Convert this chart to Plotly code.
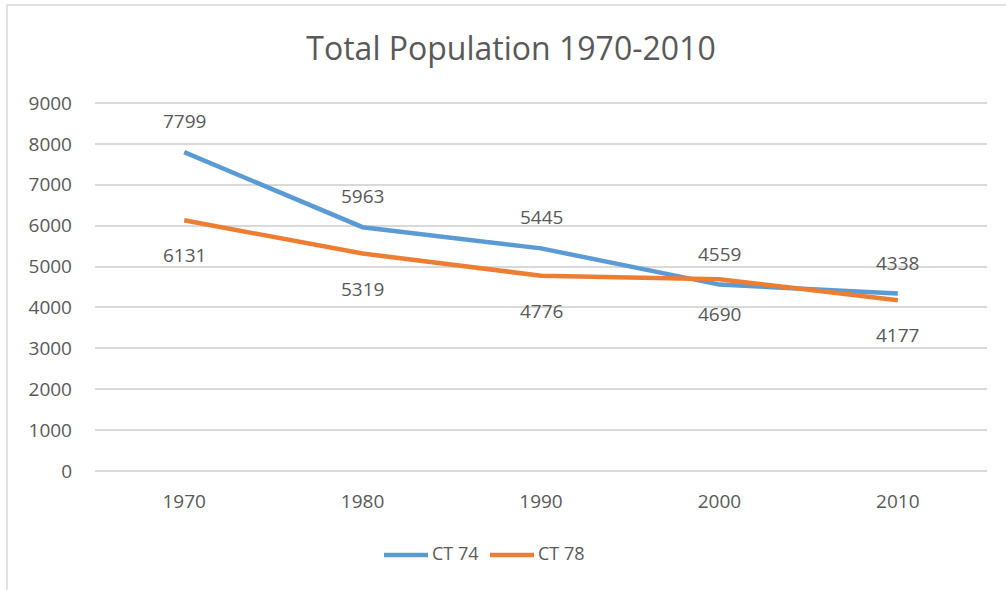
import plotly.graph_objects as go

years = ["1970", "1980", "1990", "2000", "2010"]
ct74 = [7799, 5963, 5445, 4559, 4338]
ct78 = [6131, 5319, 4776, 4690, 4177]
y_ticks = [0, 1000, 2000, 3000, 4000, 5000, 6000, 7000, 8000, 9000]
series_names = ["CT 74", "CT 78"]

FONT = "Open Sans"
TXT = "#595959"
BLUE = "#5B9BD5"
ORANGE = "#ED7D31"
GRID = "#D9D9D9"

W, H = 1006, 590
K = 368 / 9000          # px per unit
PAD = 50                # small range padding so edge gridlines are drawn
ML, MR = 95, 19
MT = round(103 - PAD * K)
MB = round(H - (471 + PAD * K))
PW = W - ML - MR
PH = H - MT - MB


def px_x(p):
    return (p - ML) / PW


def px_y(p):
    return (H - MB - p) / PH


xs = list(range(len(years)))
fig = go.Figure()
fig.add_trace(go.Scatter(x=xs, y=ct74, mode="lines", name=series_names[0],
                         line=dict(color=BLUE, width=4.5), showlegend=False))
fig.add_trace(go.Scatter(x=xs, y=ct78, mode="lines", name=series_names[1],
                         line=dict(color=ORANGE, width=4.5), showlegend=False))

for x, v in zip(xs, ct74):
    fig.add_annotation(x=x, y=v, text=str(v), showarrow=False, yshift=31,
                       font=dict(family=FONT, size=19, color=TXT))
for x, v in zip(xs, ct78):
    fig.add_annotation(x=x, y=v, text=str(v), showarrow=False, yshift=-35,
                       font=dict(family=FONT, size=19, color=TXT))

# custom legend
for (x0, x1, tx), name, col in zip([(384, 428, 430), (490, 534, 536)],
                                   series_names, [BLUE, ORANGE]):
    fig.add_shape(type="line", xref="paper", yref="paper",
                  x0=px_x(x0), x1=px_x(x1), y0=px_y(555), y1=px_y(555),
                  line=dict(color=col, width=4.5))
    fig.add_annotation(xref="paper", yref="paper", x=px_x(tx), y=px_y(553),
                       xanchor="left", yanchor="middle", showarrow=False,
                       text=name, font=dict(family=FONT, size=18, color=TXT))

# outer chart border (left/top visible)
fig.add_shape(type="rect", xref="paper", yref="paper",
              x0=px_x(7), x1=px_x(1040), y0=px_y(640), y1=px_y(5),
              line=dict(color=GRID, width=1.5), fillcolor="rgba(0,0,0,0)",
              layer="below")

fig.update_layout(
    width=W, height=H,
    margin=dict(l=ML, r=MR, t=MT, b=MB),
    paper_bgcolor="white", plot_bgcolor="white",
    font=dict(family=FONT, color=TXT, size=19),
    title=dict(text="Total Population 1970-2010", x=511 / W, xanchor="center",
               y=1 - 49 / H, yanchor="middle",
               font=dict(family=FONT, size=32, color=TXT)),
    xaxis=dict(range=[-0.5, 4.5], tickvals=xs, ticktext=years,
               showgrid=False, zeroline=False, showline=False, ticks="",
               ticklabelstandoff=15,
               tickfont=dict(size=19, color=TXT), fixedrange=True),
    yaxis=dict(range=[-PAD, 9000 + PAD], tickvals=y_ticks, showgrid=True,
               gridcolor=GRID, gridwidth=1.5, zeroline=False,
               showline=False, ticks="", ticklabelstandoff=22,
               tickfont=dict(size=19, color=TXT)),
    showlegend=False,
)

fig.write_html("out.html", config={"displayModeBar": False},
               post_script="document.body.style.margin='0';"
                           "document.body.style.padding='0';")
